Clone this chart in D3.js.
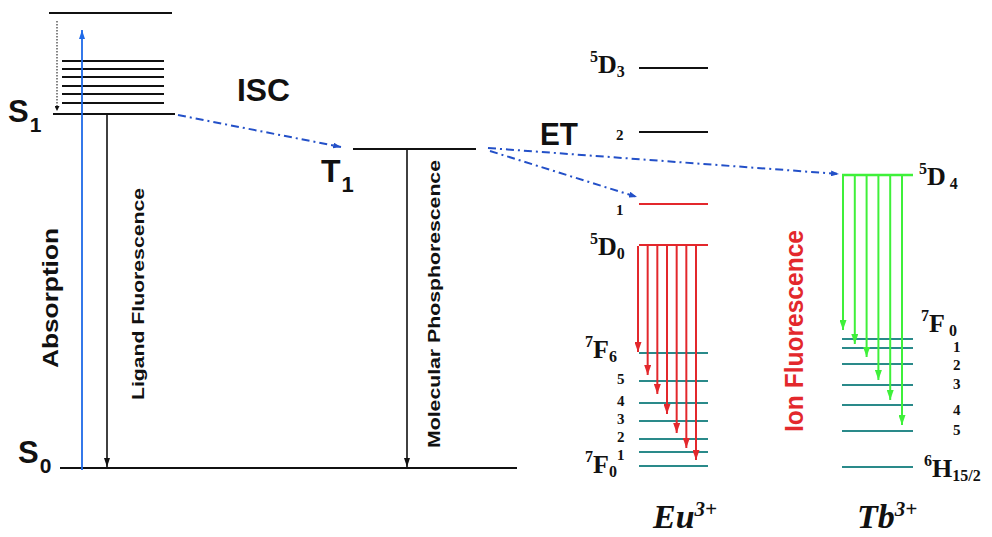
<!DOCTYPE html>
<html><head><meta charset="utf-8">
<script src="https://cdn.jsdelivr.net/npm/d3@7"></script>
<style>body{margin:0;background:#fff;}svg{display:block;}</style>
</head><body>
<svg id="chart" width="992" height="537"></svg>
<script>
// ---------------- DATA (energies in arbitrary units) ----------------
const ligandStates   = ["S0", "S1", "T1"];
const ligandEnergies = [0, 354, 319];
const s1Vibrational  = [365, 374, 382, 391, 399, 407];
const s1UpperEnergy  = 455;
const euUpperLevels   = ["5D3", "2", "1", "5D0"];
const euUpperEnergies = [400, 336, 264, 223];
const euLowerLevels   = ["7F6", "5", "4", "3", "2", "1", "7F0"];
const euLowerEnergies = [115, 87, 65, 47, 29, 16, 2];
const euEmissionEnds  = [116, 93, 74, 54, 35, 20, 8];
const tbUpperLevels   = ["5D4"];
const tbUpperEnergies = [293];
const tbLowerLevels   = ["7F0", "1", "2", "3", "4", "5", "6H15/2"];
const tbLowerEnergies = [129, 120, 104, 83, 63, 37, 1];
const tbEmissionEnds  = [138, 124, 111, 88, 68, 43];
const processLabels   = ["Absorption", "Ligand Fluorescence", "ISC", "Molecular Phosphorescence", "ET", "Ion Fluorescence"];
const ionNames        = ["Eu", "Tb"];
const ionCharge       = "3+";

// ---------------- LAYOUT ----------------
const svg = d3.select("#chart");
const y = d3.scaleLinear().domain([0, 455]).range([468, 13]);
const E = Object.fromEntries(ligandStates.map((s, i) => [s, ligandEnergies[i]]));
const SANS = "'Liberation Sans', Arial, Helvetica, sans-serif";
const SERIF = "'Liberation Serif', 'Times New Roman', serif";
const C = {black: "#111", blue: "#1f6ae8", dash: "#2350c8", red: "#e3282c", green: "#3ff03a", teal: "#2a8a8a"};

const defs = svg.append("defs");
function marker(id, color, w, l) {
  defs.append("marker").attr("id", id).attr("markerUnits", "userSpaceOnUse")
    .attr("markerWidth", l).attr("markerHeight", w).attr("refX", l).attr("refY", w / 2)
    .attr("orient", "auto").attr("viewBox", `0 0 ${l} ${w}`)
    .append("path").attr("d", `M0,0L${l},${w / 2}L0,${w}Z`).attr("fill", color).attr("stroke", "none");
}
marker("mBlack", C.black, 6, 9);
marker("mSmall", C.black, 5, 5);
marker("mBlue", C.blue, 6, 9);
marker("mDash", C.dash, 6, 8);
marker("mRed", C.red, 7, 10);
marker("mGreen", C.green, 7, 10);

function hline(x1, x2, e, color, w) {
  svg.append("line").attr("x1", x1).attr("x2", x2).attr("y1", y(e)).attr("y2", y(e))
    .attr("stroke", color).attr("stroke-width", w || 2.2);
}
function arrow(x1, y1, x2, y2, color, m, w, dash) {
  const l = svg.append("line").attr("x1", x1).attr("y1", y1).attr("x2", x2).attr("y2", y2)
    .attr("stroke", color).attr("stroke-width", w || 1.6).attr("marker-end", `url(#${m})`);
  if (dash) l.attr("stroke-dasharray", dash);
  return l;
}

// ---- ligand levels ----
const ligSpan = {S0: [60, 517], S1: [53, 175], T1: [353, 476]};
ligandStates.forEach(s => hline(ligSpan[s][0], ligSpan[s][1], E[s], C.black, 2.2));
s1Vibrational.forEach(e => hline(62, 164, e, C.black, 2.2));
hline(49, 172, s1UpperEnergy, C.black, 2.2);

// vibrational relaxation (dotted)
arrow(57, y(s1UpperEnergy) + 8, 57, y(E.S1) - 3, "#333", "mSmall", 1.2, "1.5,1.5");
// absorption
arrow(82, y(E.S0) + 2, 82, y(s1UpperEnergy) + 17, C.blue, "mBlue", 1.8);
// ligand fluorescence
arrow(107, y(E.S1), 107, y(E.S0) - 1, C.black, "mBlack", 1.6);
// phosphorescence
arrow(407, y(E.T1), 407, y(E.S0) - 1, C.black, "mBlack", 1.6);

const DD = "8,4,2,4";
// ISC
arrow(178, y(E.S1) + 1, 341, y(E.T1) - 2, C.dash, "mDash", 2, DD);
// ET to Tb and Eu
arrow(488, y(E.T1) - 1, 839, y(tbUpperEnergies[0]) - 1, C.dash, "mDash", 2, DD);
arrow(490, y(E.T1) + 2, 637, y(euUpperEnergies[2]) - 7, C.dash, "mDash", 2, DD);

// ---- Eu levels ----
const euX = [639, 708];
euUpperLevels.forEach((l, i) => hline(euX[0], euX[1], euUpperEnergies[i], i < 2 ? C.black : C.red, 2.2));
euLowerLevels.forEach((l, i) => hline(euX[0], euX[1], euLowerEnergies[i], C.teal, 2.2));
const euArrowX = d3.scaleLinear().domain([0, euEmissionEnds.length - 1]).range([638, 696]);
euEmissionEnds.forEach((e, i) =>
  arrow(euArrowX(i), y(euUpperEnergies[3]) + 1, euArrowX(i), y(e), C.red, "mRed", 2));

// ---- Tb levels ----
const tbX = [842, 913];
tbUpperLevels.forEach((l, i) => hline(tbX[0], tbX[1], tbUpperEnergies[i], C.green, 2.4));
tbLowerLevels.forEach((l, i) => hline(tbX[0], tbX[1], tbLowerEnergies[i], C.teal, 2.2));
const tbArrowX = d3.scaleLinear().domain([0, tbEmissionEnds.length - 1]).range([843, 902]);
tbEmissionEnds.forEach((e, i) =>
  arrow(tbArrowX(i), y(tbUpperEnergies[0]), tbArrowX(i), y(e), C.green, "mGreen", 2));

// ---------------- TEXT ----------------
function sansLabel(x, yb, main, sub, size, subSize) {
  const t = svg.append("text").attr("x", x).attr("y", yb).attr("font-family", SANS)
    .attr("font-weight", "bold").attr("fill", "#111");
  t.append("tspan").attr("font-size", size).text(main);
  if (sub) t.append("tspan").attr("font-size", subSize).attr("dx", 1).attr("dy", 10).text(sub);
  return t;
}
sansLabel(8, y(E.S1) + 8, "S", "1", 31, 21);
sansLabel(18, y(E.S0) - 5, "S", "0", 31, 21);
sansLabel(321, 182, "T", "1", 32, 22);
svg.append("text").attr("x", 237).attr("y", 101).attr("font-family", SANS).attr("font-weight", "bold")
  .attr("font-size", 31).attr("textLength", 53).attr("lengthAdjust", "spacingAndGlyphs").attr("fill", "#111").text(processLabels[2]);
svg.append("text").attr("x", 540).attr("y", 145).attr("font-family", SANS).attr("font-weight", "bold")
  .attr("font-size", 31).attr("textLength", 38).attr("lengthAdjust", "spacingAndGlyphs").attr("fill", "#111").text(processLabels[4]);

function vText(label, bx, cy, size, len, color) {
  svg.append("text").attr("transform", `translate(${bx},${cy}) rotate(-90)`)
    .attr("text-anchor", "middle").attr("font-family", SANS).attr("font-weight", "bold")
    .attr("font-size", size).attr("textLength", len).attr("lengthAdjust", "spacingAndGlyphs")
    .attr("fill", color).text(label);
}
vText(processLabels[0], 58, 298, 22, 140, "#111");
vText(processLabels[1], 144, 294, 16.5, 212, "#111");
vText(processLabels[3], 440, 304, 16.5, 288, "#111");
vText(processLabels[5], 803, 331, 26, 202, C.red);

// term / level labels (serif bold)
function termLabel(x, yb, label, mainSize, smallSize, anchor, subDx) {
  const t = svg.append("text").attr("x", x).attr("y", yb).attr("font-family", SERIF)
    .attr("font-weight", "bold").attr("fill", "#111").attr("text-anchor", anchor || "start");
  const m = label.match(/^(\d)([A-Z])(.+)$/);
  if (m) {
    t.append("tspan").attr("font-size", smallSize).attr("dy", -11).text(m[1]);
    t.append("tspan").attr("font-size", mainSize).attr("dy", 11).text(m[2]);
    t.append("tspan").attr("font-size", smallSize).attr("dx", subDx || 0).attr("dy", 4).text(m[3]);
  } else {
    t.attr("font-size", smallSize - 1).text(label);
  }
}
const MS = 26, SS = 16;
// Eu labels
euUpperLevels.forEach((l, i) => {
  const e = euUpperEnergies[i];
  if (/[A-Z]/.test(l)) termLabel(590, y(e) + (i === 0 ? 5 : 10), l, MS, SS);
  else termLabel(616, y(e) + (i === 1 ? 8 : 11), l, MS, SS);
});
euLowerLevels.forEach((l, i) => {
  const e = euLowerEnergies[i];
  if (/[A-Z]/.test(l)) termLabel(585, y(e) + (i === 0 ? 5 : 7), l, MS, SS);
  else termLabel(617, y(e) + (i === 5 ? 8 : 3), l, MS, SS);
});
// Tb labels
tbUpperLevels.forEach((l, i) => termLabel(919, y(tbUpperEnergies[i]) + 10, l, MS, SS, "start", 4));
tbLowerLevels.forEach((l, i) => {
  const e = tbLowerEnergies[i];
  if (l.startsWith("7F")) termLabel(921, y(e) - 7, l, MS, SS, "start", 4);
  else if (/[A-Z]/.test(l)) termLabel(924, y(e) + 10, l, MS, SS);
  else termLabel(953, y(e) + (i === 4 ? 10 : i === 2 ? 6 : 4), l, MS, SS);
});

// ion names
const ionX = [653, 857];
ionNames.forEach((n, i) => {
  const t = svg.append("text").attr("x", ionX[i]).attr("y", 528).attr("font-family", SERIF)
    .attr("font-weight", "bold").attr("font-style", "italic").attr("fill", "#111");
  t.append("tspan").attr("font-size", 34).text(n);
  t.append("tspan").attr("font-size", 21).attr("dy", -12).text(ionCharge);
});
</script>
</body></html>
